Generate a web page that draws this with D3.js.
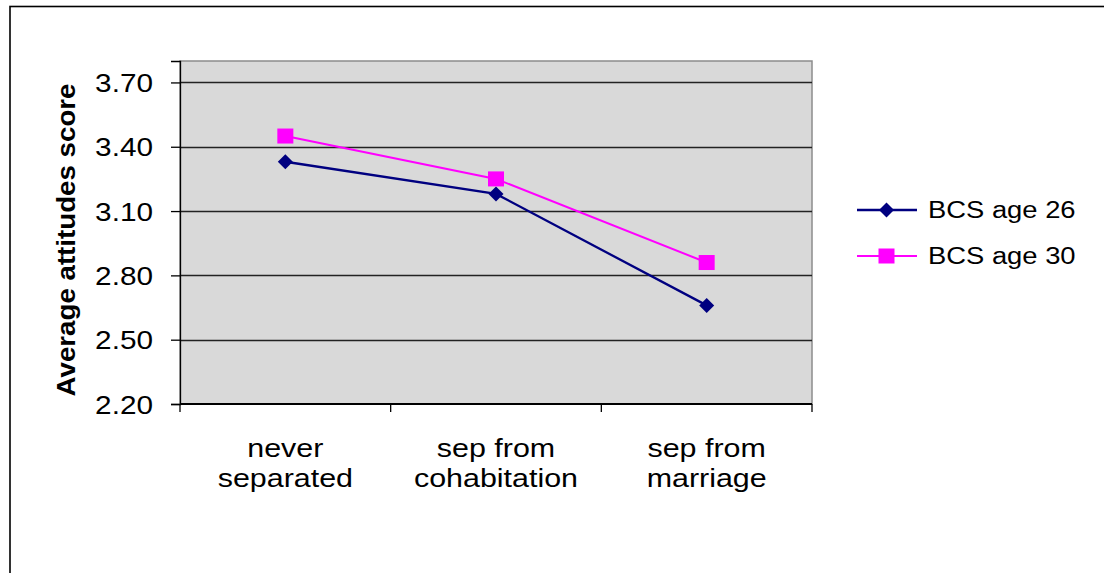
<!DOCTYPE html>
<html>
<head>
<meta charset="utf-8">
<script src="https://cdn.jsdelivr.net/npm/d3@7/dist/d3.min.js"></script>
<style>
  html, body { margin: 0; padding: 0; background: #fff; }
  svg { display: block; }
  text { font-family: "Liberation Sans", Arial, sans-serif; fill: #000; }
</style>
</head>
<body>
<svg id="chart" width="1104" height="573"></svg>
<script>
// ---- data ----
const categories = [["never", "separated"], ["sep from", "cohabitation"], ["sep from", "marriage"]];
const categoryKeys = ["never separated", "sep from cohabitation", "sep from marriage"];
const seriesNames = ["BCS age 26", "BCS age 30"];
const bcs26 = [3.33, 3.18, 2.66];
const bcs30 = [3.45, 3.25, 2.86];
const yTicks = [2.20, 2.50, 2.80, 3.10, 3.40, 3.70];
const yTitle = "Average attitudes score";

// ---- layout ----
const svg = d3.select("#chart");
const plot = { left: 180, top: 61, right: 812, bottom: 404 };
const STRETCH = 1.19;

function stretch(sel, f) {
  sel.each(function () {
    const n = this.getComputedTextLength();
    d3.select(this).attr("textLength", n * f).attr("lengthAdjust", "spacingAndGlyphs");
  });
}

// outer frame
svg.append("rect")
  .attr("x", 10).attr("y", 6.5)
  .attr("width", 1110).attr("height", 600)
  .attr("fill", "#fff").attr("stroke", "#000").attr("stroke-width", 1.6);

const x = d3.scaleBand().domain(categoryKeys).range([plot.left, plot.right]).paddingInner(0).paddingOuter(0);
const y = d3.scaleLinear().domain([2.2, 3.8]).range([plot.bottom, plot.top]);
const cx = k => x(k) + x.bandwidth() / 2;

// plot area
svg.append("rect")
  .attr("x", plot.left).attr("y", plot.top)
  .attr("width", plot.right - plot.left).attr("height", plot.bottom - plot.top)
  .attr("fill", "#d9d9d9").attr("stroke", "#8c8c8c").attr("stroke-width", 1.5);

// gridlines
svg.append("g").selectAll("line")
  .data(yTicks.slice(1))
  .join("line")
  .attr("x1", plot.left).attr("x2", plot.right)
  .attr("y1", d => Math.round(y(d)) + 0.5).attr("y2", d => Math.round(y(d)) + 0.5)
  .attr("stroke", "#222").attr("stroke-width", 1.3);

// y axis
const yAxis = svg.append("g")
  .attr("transform", `translate(${plot.left},0)`)
  .call(d3.axisLeft(y).tickValues(yTicks).tickSize(9).tickPadding(18).tickFormat(d3.format(".2f")));
yAxis.select(".domain").attr("stroke", "#000").attr("stroke-width", 1.3);
yAxis.selectAll(".tick line").attr("stroke", "#000").attr("stroke-width", 1.3);
yAxis.selectAll(".tick text")
  .attr("font-size", 25).attr("font-family", "Liberation Sans, Arial, sans-serif")
  .attr("fill", "#000").attr("dy", "0.36em")
  .call(stretch, STRETCH);

// x axis line and boundary ticks
const xb = svg.append("g");
xb.append("line")
  .attr("x1", plot.left).attr("x2", plot.right)
  .attr("y1", plot.bottom).attr("y2", plot.bottom)
  .attr("stroke", "#000").attr("stroke-width", 2);
const bounds = categoryKeys.map(k => x(k)).concat([x(categoryKeys[categoryKeys.length - 1]) + x.bandwidth()]);
xb.selectAll("line.tk").data(bounds).join("line").attr("class", "tk")
  .attr("x1", d => d).attr("x2", d => d)
  .attr("y1", plot.bottom).attr("y2", plot.bottom + 8)
  .attr("stroke", "#000").attr("stroke-width", 1.3);

// category labels
const catG = svg.append("g");
categories.forEach((lines, i) => {
  lines.forEach((ln, j) => {
    catG.append("text")
      .attr("x", cx(categoryKeys[i]))
      .attr("y", 457 + j * 30)
      .attr("text-anchor", "middle")
      .attr("font-size", 26)
      .text(ln);
  });
});
catG.selectAll("text").call(stretch, 1.17);

// y title
svg.append("text")
  .attr("transform", `translate(75,${(83 + 397) / 2}) rotate(-90)`)
  .attr("text-anchor", "middle")
  .attr("font-size", 26)
  .attr("font-weight", "bold")
  .text(yTitle)
  .call(stretch, 1.065);

// series
const series = [
  { name: seriesNames[0], values: bcs26, color: "#000080", shape: "diamond", width: 2.3 },
  { name: seriesNames[1], values: bcs30, color: "#ff00ff", shape: "square", width: 2 }
];
const line = d3.line().x((d, i) => cx(categoryKeys[i])).y(d => y(d));

function marker(g, shape, color) {
  if (shape === "diamond") {
    g.append("path").attr("d", "M0,-7.5L7.5,0L0,7.5L-7.5,0Z").attr("fill", color);
  } else {
    g.append("rect").attr("x", -8).attr("y", -7.5).attr("width", 16).attr("height", 15).attr("fill", color);
  }
}

series.forEach(s => {
  svg.append("path").datum(s.values)
    .attr("d", line).attr("fill", "none")
    .attr("stroke", s.color).attr("stroke-width", s.width);
  s.values.forEach((v, i) => {
    const g = svg.append("g").attr("transform", `translate(${cx(categoryKeys[i])},${y(v)})`);
    marker(g, s.shape, s.color);
  });
});

// legend
const legend = svg.append("g");
series.forEach((s, i) => {
  const ly = 210 + i * 46;
  legend.append("line")
    .attr("x1", 857).attr("x2", 917).attr("y1", ly).attr("y2", ly)
    .attr("stroke", s.color).attr("stroke-width", s.width);
  const g = legend.append("g").attr("transform", `translate(886.5,${ly})`);
  marker(g, s.shape, s.color);
  legend.append("text")
    .attr("x", 928).attr("y", ly + 8)
    .attr("font-size", 23)
    .text(s.name)
    .call(stretch, 1.19);
});
</script>
</body>
</html>
